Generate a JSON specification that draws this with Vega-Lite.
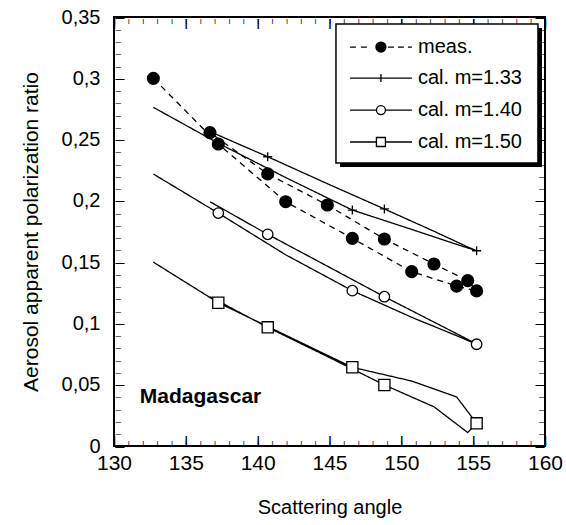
{
  "$schema": "https://vega.github.io/schema/vega-lite/v6.json",
  "width": 431,
  "height": 429,
  "autosize": "none",
  "padding": {"left": 114, "top": 17, "right": 21, "bottom": 79},
  "background": "white",
  "config": {
    "view": {"stroke": "black", "strokeWidth": 2},
    "font": "Liberation Sans",
    "axis": {"domain": false, "ticks": false, "grid": false, "labelFont": "Liberation Sans", "titleFont": "Liberation Sans", "labelColor": "black", "titleColor": "black", "titleFontWeight": "normal", "labelFlush": false, "labelOverlap": false}
  },
  "datasets": {
    "curves": [
      {"series": "meas.", "step": 1, "angle": 132.74, "ratio": 0.300},
      {"series": "meas.", "step": 2, "angle": 137.26, "ratio": 0.2464},
      {"series": "meas.", "step": 3, "angle": 141.95, "ratio": 0.1993},
      {"series": "meas.", "step": 4, "angle": 146.59, "ratio": 0.1694},
      {"series": "meas.", "step": 5, "angle": 150.72, "ratio": 0.1422},
      {"series": "meas.", "step": 6, "angle": 153.85, "ratio": 0.1305},
      {"series": "meas.", "step": 7, "angle": 155.24, "ratio": 0.1265},
      {"series": "meas.", "step": 8, "angle": 154.62, "ratio": 0.1349},
      {"series": "meas.", "step": 9, "angle": 152.27, "ratio": 0.1485},
      {"series": "meas.", "step": 10, "angle": 148.82, "ratio": 0.1689},
      {"series": "meas.", "step": 11, "angle": 144.85, "ratio": 0.1966},
      {"series": "meas.", "step": 12, "angle": 140.7, "ratio": 0.222},
      {"series": "meas.", "step": 13, "angle": 136.68, "ratio": 0.2556},
      {"series": "cal. m=1.33", "step": 1, "angle": 132.74, "ratio": 0.2763},
      {"series": "cal. m=1.33", "step": 2, "angle": 137.26, "ratio": 0.247},
      {"series": "cal. m=1.33", "step": 3, "angle": 141.95, "ratio": 0.219},
      {"series": "cal. m=1.33", "step": 4, "angle": 146.59, "ratio": 0.1925},
      {"series": "cal. m=1.33", "step": 5, "angle": 150.72, "ratio": 0.1767},
      {"series": "cal. m=1.33", "step": 6, "angle": 153.85, "ratio": 0.1645},
      {"series": "cal. m=1.33", "step": 7, "angle": 155.24, "ratio": 0.1593},
      {"series": "cal. m=1.33", "step": 8, "angle": 154.62, "ratio": 0.1624},
      {"series": "cal. m=1.33", "step": 9, "angle": 152.27, "ratio": 0.1752},
      {"series": "cal. m=1.33", "step": 10, "angle": 148.82, "ratio": 0.1934},
      {"series": "cal. m=1.33", "step": 11, "angle": 144.85, "ratio": 0.214},
      {"series": "cal. m=1.33", "step": 12, "angle": 140.7, "ratio": 0.236},
      {"series": "cal. m=1.33", "step": 13, "angle": 136.68, "ratio": 0.2565},
      {"series": "cal. m=1.40", "step": 1, "angle": 132.74, "ratio": 0.2219},
      {"series": "cal. m=1.40", "step": 2, "angle": 137.26, "ratio": 0.190},
      {"series": "cal. m=1.40", "step": 3, "angle": 141.95, "ratio": 0.156},
      {"series": "cal. m=1.40", "step": 4, "angle": 146.59, "ratio": 0.1267},
      {"series": "cal. m=1.40", "step": 5, "angle": 150.72, "ratio": 0.105},
      {"series": "cal. m=1.40", "step": 6, "angle": 153.85, "ratio": 0.090},
      {"series": "cal. m=1.40", "step": 7, "angle": 155.24, "ratio": 0.083},
      {"series": "cal. m=1.40", "step": 8, "angle": 154.62, "ratio": 0.087},
      {"series": "cal. m=1.40", "step": 9, "angle": 152.27, "ratio": 0.1011},
      {"series": "cal. m=1.40", "step": 10, "angle": 148.82, "ratio": 0.1218},
      {"series": "cal. m=1.40", "step": 11, "angle": 144.85, "ratio": 0.1467},
      {"series": "cal. m=1.40", "step": 12, "angle": 140.7, "ratio": 0.1727},
      {"series": "cal. m=1.40", "step": 13, "angle": 136.68, "ratio": 0.1993},
      {"series": "cal. m=1.50", "step": 1, "angle": 132.74, "ratio": 0.150},
      {"series": "cal. m=1.50", "step": 2, "angle": 137.26, "ratio": 0.1169},
      {"series": "cal. m=1.50", "step": 3, "angle": 141.95, "ratio": 0.0904},
      {"series": "cal. m=1.50", "step": 4, "angle": 146.59, "ratio": 0.0642},
      {"series": "cal. m=1.50", "step": 5, "angle": 150.72, "ratio": 0.053},
      {"series": "cal. m=1.50", "step": 6, "angle": 153.85, "ratio": 0.040},
      {"series": "cal. m=1.50", "step": 7, "angle": 155.24, "ratio": 0.0185},
      {"series": "cal. m=1.50", "step": 8, "angle": 154.62, "ratio": 0.011},
      {"series": "cal. m=1.50", "step": 9, "angle": 152.27, "ratio": 0.032},
      {"series": "cal. m=1.50", "step": 10, "angle": 148.82, "ratio": 0.0498},
      {"series": "cal. m=1.50", "step": 11, "angle": 144.85, "ratio": 0.073},
      {"series": "cal. m=1.50", "step": 12, "angle": 140.7, "ratio": 0.0968},
      {"series": "cal. m=1.50", "step": 13, "angle": 136.68, "ratio": 0.1218}
    ]
  },
  "data": {"name": "curves"},
  "resolve": {"scale": {"x": "independent", "y": "independent"}, "axis": {"x": "independent", "y": "independent"}},
  "layer": [
    {
      "mark": {"type": "line", "color": "black", "strokeWidth": 1.3},
      "encoding": {
        "x": {"field": "angle", "type": "quantitative", "scale": {"domain": [130, 160], "nice": false, "zero": false},
          "axis": {"orient": "bottom", "values": [130, 135, 140, 145, 150, 155, 160], "labelFontSize": 21, "labelPadding": 6, "title": "Scattering angle", "titleFontSize": 20, "titlePadding": 24}},
        "y": {"field": "ratio", "type": "quantitative", "scale": {"domain": [0, 0.35], "nice": false, "zero": false},
          "axis": {"orient": "left", "values": [0, 0.05, 0.1, 0.15, 0.2, 0.25, 0.3, 0.35], "labelFontSize": 20, "labelPadding": 14, "labelExpr": "replace(format(datum.value, '~g'), '.', ',')", "title": "Aerosol apparent polarization ratio", "titleFontSize": 21, "titlePadding": 20}},
        "detail": {"field": "series"},
        "order": {"field": "step", "type": "quantitative"},
        "strokeDash": {"field": "series", "type": "nominal", "scale": {"domain": ["meas.", "cal. m=1.33", "cal. m=1.40", "cal. m=1.50"], "range": [[6, 5], [1, 0], [1, 0], [1, 0]]}, "legend": null}
      }
    },
    {
      "transform": [{"filter": "datum.series === 'meas.'"}],
      "mark": {"type": "point", "shape": "circle", "filled": true, "fill": "black", "stroke": "black", "size": 125, "opacity": 1},
      "encoding": {
        "x": {"field": "angle", "type": "quantitative", "scale": {"domain": [130, 160], "nice": false, "zero": false}, "axis": {"orient": "bottom", "values": [130, 135, 140, 145, 150, 155, 160], "labelExpr": "'|'", "labelFontSize": 10.5, "labelFontWeight": "bold", "labelAlign": "center", "labelBaseline": "bottom", "labelPadding": -1, "title": null}},
        "y": {"field": "ratio", "type": "quantitative", "scale": {"domain": [0, 0.35], "nice": false, "zero": false}, "axis": {"orient": "left", "values": [0, 0.05, 0.1, 0.15, 0.2, 0.25, 0.3, 0.35], "labelExpr": "'—'", "labelFontSize": 9, "labelFontWeight": "bold", "labelAlign": "left", "labelBaseline": "middle", "labelPadding": -1, "title": null}}
      }
    },
    {
      "transform": [{"filter": "datum.series === 'cal. m=1.33' && indexof([137.26, 140.7, 146.59, 148.82, 155.24], datum.angle) >= 0"}],
      "mark": {"type": "point", "shape": "M-1,0H1M0,-1V1", "filled": false, "stroke": "black", "strokeWidth": 1.3, "size": 81, "opacity": 1},
      "encoding": {
        "x": {"field": "angle", "type": "quantitative", "scale": {"domain": [130, 160], "nice": false, "zero": false}, "axis": {"orient": "bottom", "values": [130,131,132,133,134,135,136,137,138,139,140,141,142,143,144,145,146,147,148,149,150,151,152,153,154,155,156,157,158,159,160], "labelExpr": "'|'", "labelFontSize": 5.5, "labelFontWeight": "bold", "labelAlign": "center", "labelBaseline": "bottom", "labelPadding": -1, "title": null}},
        "y": {"field": "ratio", "type": "quantitative", "scale": {"domain": [0, 0.35], "nice": false, "zero": false}, "axis": {"orient": "left", "values": [0,0.01,0.02,0.03,0.04,0.05,0.06,0.07,0.08,0.09,0.1,0.11,0.12,0.13,0.14,0.15,0.16,0.17,0.18,0.19,0.2,0.21,0.22,0.23,0.24,0.25,0.26,0.27,0.28,0.29,0.3,0.31,0.32,0.33,0.34,0.35], "labelExpr": "'—'", "labelFontSize": 5.5, "labelFontWeight": "bold", "labelAlign": "left", "labelBaseline": "middle", "labelPadding": -1, "title": null}}
      }
    },
    {
      "transform": [{"filter": "datum.series === 'cal. m=1.40' && indexof([137.26, 140.7, 146.59, 148.82, 155.24], datum.angle) >= 0"}],
      "mark": {"type": "point", "shape": "circle", "filled": true, "fill": "white", "stroke": "black", "strokeWidth": 1.3, "size": 110, "opacity": 1},
      "encoding": {
        "x": {"field": "angle", "type": "quantitative", "scale": {"domain": [130, 160], "nice": false, "zero": false}, "axis": {"orient": "top", "values": [130, 135, 140, 145, 150, 155, 160], "labelExpr": "'|'", "labelFontSize": 10.5, "labelFontWeight": "bold", "labelAlign": "center", "labelBaseline": "top", "labelPadding": -1, "title": null}},
        "y": {"field": "ratio", "type": "quantitative", "scale": {"domain": [0, 0.35], "nice": false, "zero": false}, "axis": {"orient": "right", "values": [0, 0.05, 0.1, 0.15, 0.2, 0.25, 0.3, 0.35], "labelExpr": "'—'", "labelFontSize": 9, "labelFontWeight": "bold", "labelAlign": "right", "labelBaseline": "middle", "labelPadding": -1, "title": null}}
      }
    },
    {
      "transform": [{"filter": "datum.series === 'cal. m=1.50' && indexof([137.26, 140.7, 146.59, 148.82, 155.24], datum.angle) >= 0"}],
      "mark": {"type": "point", "shape": "square", "filled": true, "fill": "white", "stroke": "black", "strokeWidth": 1.3, "size": 125, "opacity": 1},
      "encoding": {
        "x": {"field": "angle", "type": "quantitative", "scale": {"domain": [130, 160], "nice": false, "zero": false}, "axis": {"orient": "top", "values": [130,131,132,133,134,135,136,137,138,139,140,141,142,143,144,145,146,147,148,149,150,151,152,153,154,155,156,157,158,159,160], "labelExpr": "'|'", "labelFontSize": 5.5, "labelFontWeight": "bold", "labelAlign": "center", "labelBaseline": "top", "labelPadding": -1, "title": null}},
        "y": {"field": "ratio", "type": "quantitative", "scale": {"domain": [0, 0.35], "nice": false, "zero": false}, "axis": {"orient": "right", "values": [0,0.01,0.02,0.03,0.04,0.05,0.06,0.07,0.08,0.09,0.1,0.11,0.12,0.13,0.14,0.15,0.16,0.17,0.18,0.19,0.2,0.21,0.22,0.23,0.24,0.25,0.26,0.27,0.28,0.29,0.3,0.31,0.32,0.33,0.34,0.35], "labelExpr": "'—'", "labelFontSize": 5.5, "labelFontWeight": "bold", "labelAlign": "right", "labelBaseline": "middle", "labelPadding": -1, "title": null}}
      }
    },
    {
      "data": {"values": [{}]},
      "mark": {"type": "text", "text": "Madagascar", "font": "Liberation Sans", "fontWeight": "bold", "fontSize": 21, "align": "left", "baseline": "alphabetic", "color": "black"},
      "encoding": {
        "x": {"datum": 131.8, "type": "quantitative", "scale": {"domain": [130, 160], "nice": false, "zero": false}, "axis": null},
        "y": {"datum": 0.0351, "type": "quantitative", "scale": {"domain": [0, 0.35], "nice": false, "zero": false}, "axis": null}
      }
    },
    {
      "data": {"values": [{}]},
      "mark": {"type": "rect", "fill": "black"},
      "encoding": {
        "x": {"datum": 145.73, "type": "quantitative", "scale": {"domain": [130, 160], "nice": false, "zero": false}, "axis": null},
        "x2": {"datum": 159.79},
        "y": {"datum": 0.341, "type": "quantitative", "scale": {"domain": [0, 0.35], "nice": false, "zero": false}, "axis": null},
        "y2": {"datum": 0.2277}
      }
    },
    {
      "data": {"values": [{}]},
      "mark": {"type": "rect", "fill": "white", "stroke": "black", "strokeWidth": 1.5},
      "encoding": {
        "x": {"datum": 145.45, "type": "quantitative", "scale": {"domain": [130, 160], "nice": false, "zero": false}, "axis": null},
        "x2": {"datum": 159.51},
        "y": {"datum": 0.3443, "type": "quantitative", "scale": {"domain": [0, 0.35], "nice": false, "zero": false}, "axis": null},
        "y2": {"datum": 0.2309}
      }
    },
    {
      "data": {"values": [{}]},
      "mark": {"type": "point", "shape": "M-6.2,0H-5M-4,0H-2.8M-1,0A1,1 0 1,1 1,0A1,1 0 1,1 -1,0ZM1.4,0H2.6M3.4,0H4.6M5.4,0H6.2", "size": 100, "filled": true, "fill": "black", "stroke": "black", "strokeWidth": 1.3, "opacity": 1},
      "encoding": {
        "x": {"datum": 148.58, "type": "quantitative", "scale": {"domain": [130, 160], "nice": false, "zero": false}, "axis": null},
        "y": {"datum": 0.3255, "type": "quantitative", "scale": {"domain": [0, 0.35], "nice": false, "zero": false}, "axis": null}
      }
    },
    {
      "data": {"values": [{}]},
      "mark": {"type": "point", "shape": "M-6.2,0H6.2M0,-0.8V0.8", "size": 100, "filled": false, "stroke": "black", "strokeWidth": 1.3, "opacity": 1},
      "encoding": {
        "x": {"datum": 148.58, "type": "quantitative", "scale": {"domain": [130, 160], "nice": false, "zero": false}, "axis": null},
        "y": {"datum": 0.3002, "type": "quantitative", "scale": {"domain": [0, 0.35], "nice": false, "zero": false}, "axis": null}
      }
    },
    {
      "data": {"values": [{}]},
      "mark": {"type": "point", "shape": "M-6.2,0H-0.9M0.9,0H6.2M-0.9,0A0.9,0.9 0 1,1 0.9,0A0.9,0.9 0 1,1 -0.9,0Z", "size": 100, "filled": true, "fill": "white", "stroke": "black", "strokeWidth": 1.3, "opacity": 1},
      "encoding": {
        "x": {"datum": 148.58, "type": "quantitative", "scale": {"domain": [130, 160], "nice": false, "zero": false}, "axis": null},
        "y": {"datum": 0.2741, "type": "quantitative", "scale": {"domain": [0, 0.35], "nice": false, "zero": false}, "axis": null}
      }
    },
    {
      "data": {"values": [{}]},
      "mark": {"type": "point", "shape": "M-6.2,0H-0.9M0.9,0H6.2M-0.9,-0.9H0.9V0.9H-0.9Z", "size": 100, "filled": true, "fill": "white", "stroke": "black", "strokeWidth": 1.3, "opacity": 1},
      "encoding": {
        "x": {"datum": 148.58, "type": "quantitative", "scale": {"domain": [130, 160], "nice": false, "zero": false}, "axis": null},
        "y": {"datum": 0.248, "type": "quantitative", "scale": {"domain": [0, 0.35], "nice": false, "zero": false}, "axis": null}
      }
    },
    {
      "data": {"values": [{}]},
      "mark": {"type": "text", "text": "meas.", "font": "Liberation Sans", "fontSize": 20, "align": "left", "baseline": "middle", "color": "black"},
      "encoding": {
        "x": {"datum": 151.16, "type": "quantitative", "scale": {"domain": [130, 160], "nice": false, "zero": false}, "axis": null},
        "y": {"datum": 0.3255, "type": "quantitative", "scale": {"domain": [0, 0.35], "nice": false, "zero": false}, "axis": null}
      }
    },
    {
      "data": {"values": [{}]},
      "mark": {"type": "text", "text": "cal. m=1.33", "font": "Liberation Sans", "fontSize": 20, "align": "left", "baseline": "middle", "color": "black"},
      "encoding": {
        "x": {"datum": 151.16, "type": "quantitative", "scale": {"domain": [130, 160], "nice": false, "zero": false}, "axis": null},
        "y": {"datum": 0.3002, "type": "quantitative", "scale": {"domain": [0, 0.35], "nice": false, "zero": false}, "axis": null}
      }
    },
    {
      "data": {"values": [{}]},
      "mark": {"type": "text", "text": "cal. m=1.40", "font": "Liberation Sans", "fontSize": 20, "align": "left", "baseline": "middle", "color": "black"},
      "encoding": {
        "x": {"datum": 151.16, "type": "quantitative", "scale": {"domain": [130, 160], "nice": false, "zero": false}, "axis": null},
        "y": {"datum": 0.2741, "type": "quantitative", "scale": {"domain": [0, 0.35], "nice": false, "zero": false}, "axis": null}
      }
    },
    {
      "data": {"values": [{}]},
      "mark": {"type": "text", "text": "cal. m=1.50", "font": "Liberation Sans", "fontSize": 20, "align": "left", "baseline": "middle", "color": "black"},
      "encoding": {
        "x": {"datum": 151.16, "type": "quantitative", "scale": {"domain": [130, 160], "nice": false, "zero": false}, "axis": null},
        "y": {"datum": 0.248, "type": "quantitative", "scale": {"domain": [0, 0.35], "nice": false, "zero": false}, "axis": null}
      }
    }
  ]
}
